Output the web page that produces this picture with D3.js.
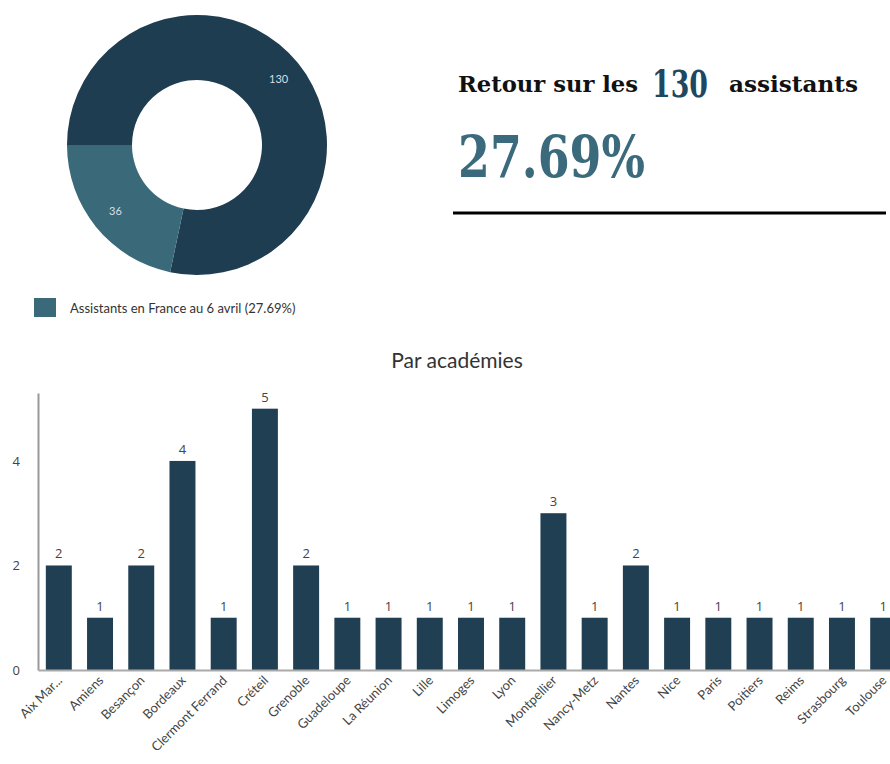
<!DOCTYPE html>
<html>
<head>
<meta charset="utf-8">
<script src="https://cdn.jsdelivr.net/npm/d3@7"></script>
<style>
  html, body { margin: 0; padding: 0; background: #fff; }
  svg { display: block; }
</style>
</head>
<body>
<svg id="chart" width="890" height="764"></svg>
<script>
// ---- Data ----
const donutLabels = ["Total", "Assistants en France au 6 avril (27.69%)"];
const donutValues = [130, 36];
const headlineTotal = "130";
const headlinePct = "27.69%";
const barTitle = "Par académies";
const academies = ["Aix Mar...", "Amiens", "Besançon", "Bordeaux", "Clermont Ferrand", "Créteil",
  "Grenoble", "Guadeloupe", "La Réunion", "Lille", "Limoges", "Lyon", "Montpellier", "Nancy-Metz",
  "Nantes", "Nice", "Paris", "Poitiers", "Reims", "Strasbourg", "Toulouse"];
const academyValues = [2, 1, 2, 4, 1, 5, 2, 1, 1, 1, 1, 1, 3, 1, 2, 1, 1, 1, 1, 1, 1];
const yTicks = [0, 2, 4];

// ---- Styles ----
const darkColor = "#1f3d50";
const lightColor = "#3a6979";
const barColor = "#213f52";
const sans = "Lato, 'Open Sans', sans-serif";
const serif = "'DejaVu Serif', serif";

const svg = d3.select("#chart");

// ---- Donut ----
const cx = 197, cy = 145, rOuter = 130, rInner = 65, rLabel = 105;
const pie = d3.pie().sort(null).startAngle(-Math.PI / 2).endAngle(1.5 * Math.PI);
const arcs = pie(donutValues);
const arc = d3.arc().innerRadius(rInner).outerRadius(rOuter);
const labelArc = d3.arc().innerRadius(rLabel).outerRadius(rLabel);
const gD = svg.append("g").attr("transform", `translate(${cx},${cy})`);
gD.selectAll("path").data(arcs).enter().append("path")
  .attr("d", arc)
  .attr("fill", (d, i) => i === 0 ? darkColor : lightColor);
gD.selectAll("text").data(arcs).enter().append("text")
  .attr("transform", d => `translate(${labelArc.centroid(d)})`)
  .attr("text-anchor", "middle").attr("dy", "0.35em")
  .attr("font-family", sans).attr("font-size", 11)
  .attr("fill", "#d8dfe3")
  .text(d => d.data);

// Legend
svg.append("rect").attr("x", 34).attr("y", 298).attr("width", 22).attr("height", 19).attr("fill", lightColor);
svg.append("text").attr("x", 70).attr("y", 313)
  .attr("font-family", sans).attr("font-size", 13).attr("fill", "#333")
  .text(donutLabels[1]);

// ---- Headline ----
svg.append("text").attr("x", 458).attr("y", 92)
  .attr("font-family", serif).attr("font-weight", "bold").attr("font-size", 22).attr("fill", "#111")
  .attr("textLength", 180).attr("lengthAdjust", "spacingAndGlyphs")
  .text("Retour sur les");
svg.append("text").attr("x", 652).attr("y", 97)
  .attr("font-family", serif).attr("font-weight", "bold").attr("font-size", 37).attr("fill", "#1e4861")
  .attr("textLength", 56).attr("lengthAdjust", "spacingAndGlyphs")
  .text(headlineTotal);
svg.append("text").attr("x", 729).attr("y", 92)
  .attr("font-family", serif).attr("font-weight", "bold").attr("font-size", 22).attr("fill", "#111")
  .attr("textLength", 129).attr("lengthAdjust", "spacingAndGlyphs")
  .text("assistants");
svg.append("text").attr("x", 458).attr("y", 177)
  .attr("font-family", serif).attr("font-weight", "bold").attr("font-size", 57).attr("fill", "#3a6a7c")
  .attr("textLength", 187).attr("lengthAdjust", "spacingAndGlyphs")
  .text(headlinePct);
svg.append("line").attr("x1", 453).attr("x2", 886).attr("y1", 213).attr("y2", 213)
  .attr("stroke", "#000").attr("stroke-width", 3);

// ---- Bar chart ----
svg.append("text").attr("x", 457).attr("y", 368).attr("text-anchor", "middle")
  .attr("font-family", sans).attr("font-size", 21).attr("fill", "#333")
  .text(barTitle);

const x0 = 38, y0 = 670;
const x = d3.scaleBand().domain(academies).range([x0, 904]).paddingInner(0.37).paddingOuter(0.19);
const y = d3.scaleLinear().domain([0, 5.3]).range([y0, 393]);

const gB = svg.append("g");
gB.selectAll("rect").data(academies).enter().append("rect")
  .attr("x", d => x(d)).attr("width", x.bandwidth())
  .attr("y", (d, i) => y(academyValues[i]))
  .attr("height", (d, i) => y(0) - y(academyValues[i]))
  .attr("fill", barColor);
gB.selectAll("text.val").data(academies).enter().append("text").attr("class", "val")
  .attr("x", d => x(d) + x.bandwidth() / 2)
  .attr("y", (d, i) => y(academyValues[i]) - 7)
  .attr("text-anchor", "middle")
  .attr("font-family", "'Open Sans', sans-serif").attr("font-size", 13).attr("fill", "#444")
  .text((d, i) => academyValues[i]);

// Y axis
const yAxis = d3.axisLeft(y).tickValues(yTicks).tickFormat(d3.format("d")).tickSize(0).tickPadding(18);
const gy = svg.append("g").attr("transform", `translate(${x0},0)`).call(yAxis);
gy.select(".domain").attr("stroke", "#999").attr("stroke-width", 2);
gy.selectAll("text").attr("font-family", "'Open Sans', sans-serif").attr("font-size", 13).attr("fill", "#444");

// X axis
const xAxis = d3.axisBottom(x).tickSize(0).tickPadding(8);
const gx = svg.append("g").attr("transform", `translate(0,${y0})`).call(xAxis);
gx.select(".domain").attr("stroke", "#aaa").attr("stroke-width", 2);
gx.selectAll("text")
  .attr("font-family", sans).attr("font-size", 13).attr("fill", "#444")
  .attr("text-anchor", "end")
  .attr("transform", "translate(1,8) rotate(-45)")
  .attr("dx", 0).attr("dy", "0.35em").attr("y", 0).attr("x", 0);
</script>
</body>
</html>
